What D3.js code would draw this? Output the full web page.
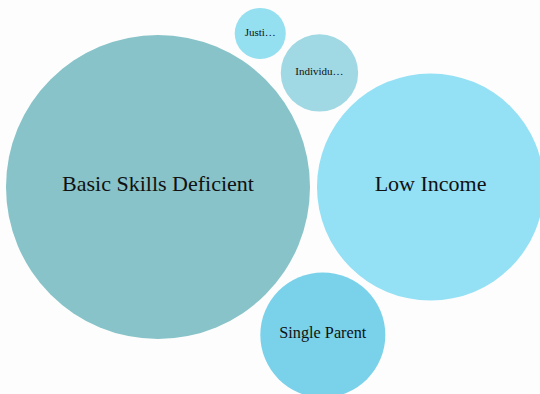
<!DOCTYPE html>
<html>
<head>
<meta charset="utf-8">
<script src="https://cdn.jsdelivr.net/npm/d3@7"></script>
<style>
  html, body { margin: 0; padding: 0; background: #fdfdfd; overflow: hidden; }
  svg { display: block; }
  .bubble text { font-family: "Liberation Serif", "Times New Roman", Tinos, Times, "DejaVu Serif", serif; }
</style>
</head>
<body>
<svg id="chart"></svg>
<script>
// Bubble data: one circle per barrier category, area proportional to count
const categories = ["Basic Skills Deficient", "Low Income", "Single Parent", "Individu…", "Justi…"];
const counts = [355, 198, 60, 23, 10];
const colors = ["#87c3c8", "#94e0f5", "#79d1ea", "#a0d8e3", "#94dff0"];

const width = 540, height = 394;
const gap = 7;          // space between neighbouring bubbles
const maxRadius = 152;  // radius of the largest bubble

const svg = d3.select("#chart")
  .attr("width", width)
  .attr("height", height)
  .style("background", "#fdfdfd");

const radius = d3.scaleSqrt().domain([0, d3.max(counts)]).range([0, maxRadius]);
const fontSize = r => Math.max(11, Math.min(22, r * 0.26));

// Pack the circles side by side, padding each radius by half the gap
const nodes = categories.map((name, i) => ({
  name,
  value: counts[i],
  color: colors[i],
  r: radius(counts[i]) + gap / 2
}));
d3.packSiblings(nodes);
nodes.forEach(d => { d.r -= gap / 2; });

// Place the packed group: left edge near the margin, vertically near the middle
const tx = 6 - d3.min(nodes, d => d.x - d.r);
const ty = height / 2 - 10;

const g = svg.append("g").attr("transform", `translate(${tx},${ty})`);

const bubble = g.selectAll("g.bubble")
  .data(nodes)
  .join("g")
  .attr("class", "bubble")
  .attr("transform", d => `translate(${d.x},${d.y})`);

bubble.append("circle")
  .attr("r", d => d.r)
  .attr("fill", d => d.color);

bubble.append("text")
  .attr("text-anchor", "middle")
  .attr("dy", "0.2em")
  .attr("font-size", d => fontSize(d.r))
  .attr("fill", "#111")
  .text(d => d.name);
</script>
</body>
</html>
